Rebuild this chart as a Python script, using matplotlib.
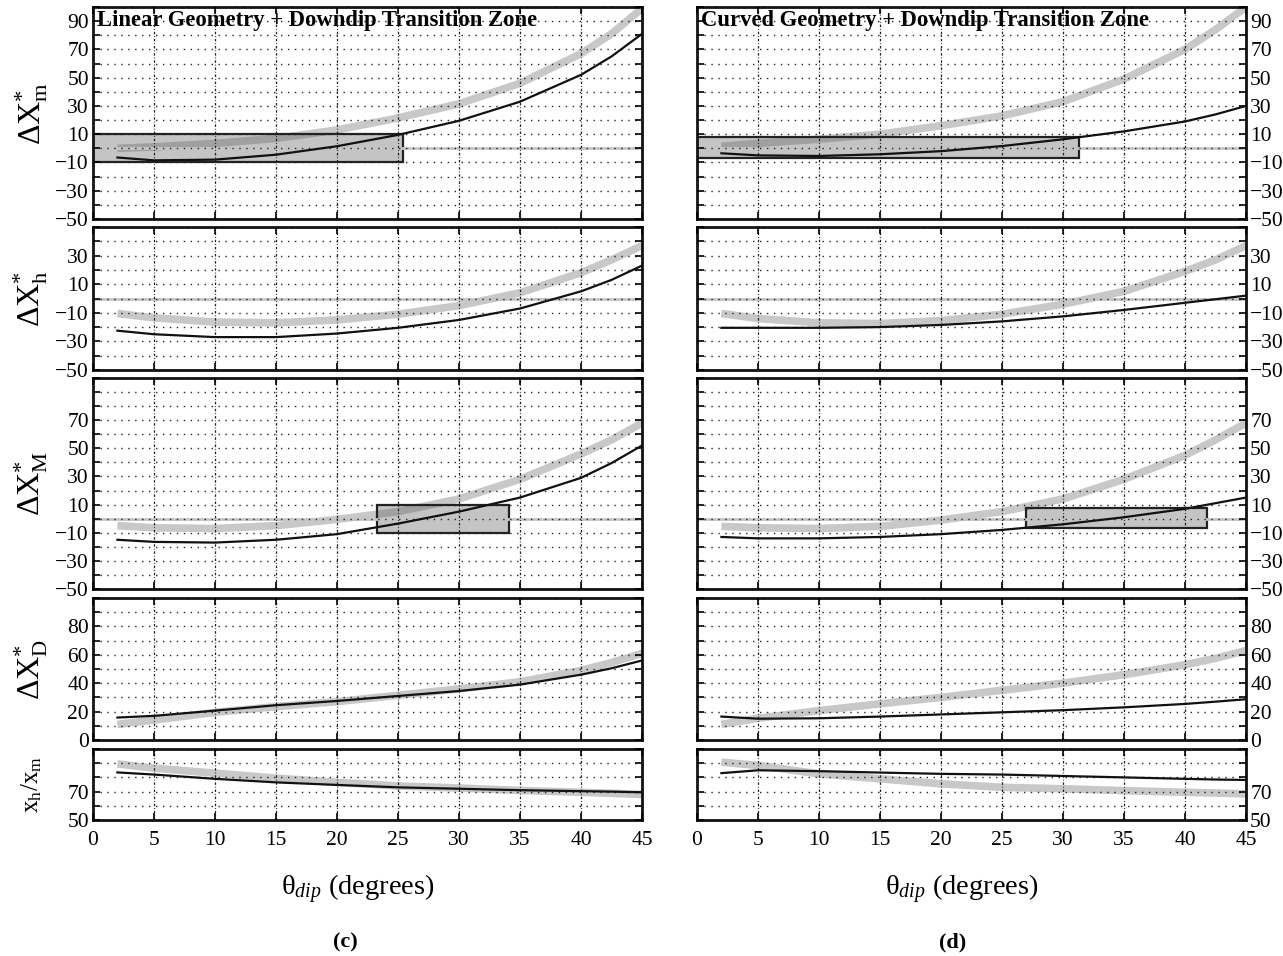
import matplotlib.pyplot as plt
from matplotlib.patches import Rectangle
from matplotlib.ticker import MultipleLocator, FixedLocator

plt.rcParams['font.family'] = ['Liberation Serif', 'DejaVu Serif']
plt.rcParams['mathtext.fontset'] = 'custom'
plt.rcParams['mathtext.rm'] = 'Liberation Serif'
plt.rcParams['mathtext.it'] = 'Liberation Serif:italic'
plt.rcParams['mathtext.bf'] = 'Liberation Serif:bold'

# dip angle (degrees)
theta = [2, 5, 10, 15, 20, 25, 30, 35, 40, 42.5, 45]

# (c) Linear geometry: gray = thick reference curve, black = thin curve
lin_xm_gray = [0, 1, 3.5, 7, 13, 21.5, 31.5, 46, 67, 81, 99]
lin_xm_black = [-6.5, -8.5, -8, -4.5, 1.5, 9.5, 19.5, 33, 52, 65, 81]
lin_xh_gray = [-10.5, -13.5, -16.5, -17, -15, -11, -5, 4, 18, 27, 37]
lin_xh_black = [-22.5, -25, -27, -27, -24.5, -20.5, -15, -7, 5, 13, 23]
lin_xM_gray = [-5, -6.5, -7, -5, -0.5, 5, 14, 28, 46, 56, 68]
lin_xM_black = [-15, -16.5, -17, -15, -11, -3.5, 5, 15, 29, 39.5, 52]
lin_xD_gray = [11, 14, 19.5, 23.5, 27, 31.5, 36, 41, 49, 54.5, 61]
lin_xD_black = [15.8, 17, 20.7, 24.5, 27.5, 31, 34.5, 39, 46, 50.5, 56]
lin_ratio_gray = [89.5, 86.5, 83, 79.5, 76.5, 74, 72.5, 70.8, 69.5, 68.8, 68]
lin_ratio_black = [83.5, 82, 79, 76.5, 74.7, 73, 72, 71, 70.3, 70, 69.5]

# (d) Curved geometry
cur_xm_gray = [1.5, 3.5, 6.5, 10, 16, 23, 33, 49, 70, 84, 100]
cur_xm_black = [-3.5, -5, -5.4, -4.2, -2, 1.6, 6.4, 12, 19, 24, 30]
cur_xh_gray = [-10.5, -14, -17, -17.5, -15.5, -11, -4, 5, 19, 27, 37]
cur_xh_black = [-20.5, -20.5, -20.5, -20, -18.5, -16, -12.5, -8, -3, -0.5, 2]
cur_xM_gray = [-5.5, -6.5, -7, -5.5, -1, 5, 14, 28, 45, 56, 68]
cur_xM_black = [-13, -14, -14, -13, -11, -8, -4, 1, 7, 11, 15]
cur_xD_gray = [11, 15.3, 20.7, 25.5, 30, 35, 40, 46, 53, 57.5, 63]
cur_xD_black = [16.5, 15, 15.3, 16.5, 18, 19.5, 21, 23, 25.4, 27, 28.7]
cur_ratio_gray = [90.7, 88.4, 82.5, 79, 75.5, 73, 72, 70.7, 69.5, 69, 68.4]
cur_ratio_black = [83, 85, 84.4, 83.4, 82.5, 82, 81, 80, 79, 78.5, 78.2]

# shaded boxes: (theta_min, theta_max, y_min, y_max)
lin_box_xm = (0, 25.4, -10, 10)
lin_box_xM = (23.3, 34.1, -10, 10)
cur_box_xm = (0, 31.3, -6.5, 8)
cur_box_xM = (27, 41.8, -6.5, 7.5)

# row settings: ylim, labelled ticks, y-label
row_ylims = [(-50, 100), (-50, 50), (-50, 100), (0, 100), (50, 100)]
row_ticks = [[-50, -30, -10, 10, 30, 50, 70, 90],
             [-50, -30, -10, 10, 30],
             [-50, -30, -10, 10, 30, 50, 70],
             [0, 20, 40, 60, 80],
             [50, 70]]
row_labels = [r'$\mathrm{\Delta X}_{\mathrm{m}}^{*}$',
              r'$\mathrm{\Delta X}_{\mathrm{h}}^{*}$',
              r'$\mathrm{\Delta X}_{\mathrm{M}}^{*}$',
              r'$\mathrm{\Delta X}_{\mathrm{D}}^{*}$',
              r'$\mathrm{x}_{\mathrm{h}}/\mathrm{x}_{\mathrm{m}}$']

W, H = 1283, 956
row_px = [(7, 219), (227, 370), (378, 589), (598, 740), (749, 820)]
col_px = [(93, 642), (697, 1246)]

GRAY = '#c8c8c8'

fig = plt.figure(figsize=(W / 100, H / 100), dpi=100)


def draw_panel(ax, row, gray, black, box=None, right=False):
    ax.set_xlim(0, 45)
    ax.set_ylim(*row_ylims[row])
    ax.set_axisbelow(False)

    ax.plot(theta, gray, color=GRAY, lw=5.5, solid_capstyle='butt', zorder=2)
    if row < 3:
        ax.axhline(0, color='#c4c4c4', lw=2, zorder=2.2)
    if box is not None:
        x0, x1, y0, y1 = box
        ax.add_patch(Rectangle((x0, y0), x1 - x0, y1 - y0,
                               facecolor=(0.34, 0.34, 0.34, 0.35),
                               edgecolor='#222222', lw=1.6, zorder=2.1))
    ax.plot(theta, black, color='#111111', lw=1.6, zorder=3)

    ax.xaxis.set_major_locator(MultipleLocator(5))
    ax.yaxis.set_major_locator(FixedLocator(row_ticks[row]))
    ax.yaxis.set_minor_locator(MultipleLocator(10))
    ax.grid(True, axis='y', which='both', color='#222222', lw=1.0,
            linestyle=(0, (1, 4)))
    ax.grid(True, axis='x', which='major', color='#222222', lw=0.9,
            linestyle=(0, (2, 1.5, 0.7, 1.5)))
    ax.tick_params(which='both', direction='in', top=True, right=True,
                   left=True, bottom=True, length=5, width=1.2,
                   labelsize=15.5, pad=3)
    ax.tick_params(axis='x', pad=8)
    if right:
        ax.tick_params(labelleft=False, labelright=True)
    if row < 4:
        ax.tick_params(labelbottom=False)
    for s in ax.spines.values():
        s.set_linewidth(2)
        s.set_color('#111111')


data = [
    [(lin_xm_gray, lin_xm_black, lin_box_xm), (lin_xh_gray, lin_xh_black, None),
     (lin_xM_gray, lin_xM_black, lin_box_xM), (lin_xD_gray, lin_xD_black, None),
     (lin_ratio_gray, lin_ratio_black, None)],
    [(cur_xm_gray, cur_xm_black, cur_box_xm), (cur_xh_gray, cur_xh_black, None),
     (cur_xM_gray, cur_xM_black, cur_box_xM), (cur_xD_gray, cur_xD_black, None),
     (cur_ratio_gray, cur_ratio_black, None)],
]
titles = ['Linear Geometry + Downdip Transition Zone',
          'Curved Geometry + Downdip Transition Zone']
letters = ['(c)', '(d)']
letter_x = [345, 953]

for c, (cx0, cx1) in enumerate(col_px):
    for r, (ry0, ry1) in enumerate(row_px):
        ax = fig.add_axes([cx0 / W, 1 - ry1 / H, (cx1 - cx0) / W, (ry1 - ry0) / H])
        g, b, box = data[c][r]
        draw_panel(ax, r, g, b, box, right=(c == 1))
        if c == 0:
            ax.set_ylabel(row_labels[r], fontsize=18 if r == 4 else 23)
            ax.yaxis.set_label_coords(-0.078 if r < 4 else -0.09, 0.5)
        if r == 0:
            ax.text(0.008, 0.935, titles[c], transform=ax.transAxes,
                    fontsize=16.3, fontweight='bold', ha='left', va='center',
                    zorder=1)
        if r == 4:
            ax.set_xlabel(r'$\mathrm{\theta}_{\mathit{dip}}$ (degrees)',
                          fontsize=20.5)
            ax.xaxis.set_label_coords(0.483, -0.74)
    fig.text(letter_x[c] / W, 1 - 942 / H, letters[c], fontsize=16,
             fontweight='bold', ha='center', va='center')

fig.savefig('out.png', dpi=100)
